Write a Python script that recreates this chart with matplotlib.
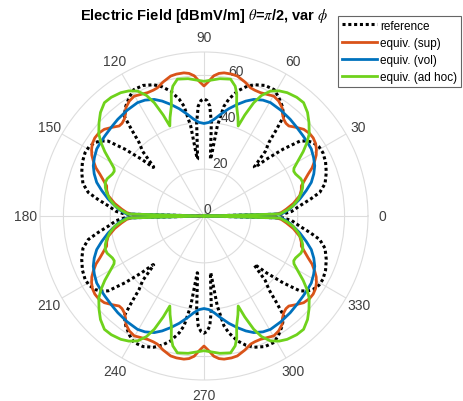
import numpy as np
import matplotlib.pyplot as plt

plt.rcParams['font.family'] = ['Liberation Sans', 'DejaVu Sans']
plt.rcParams['mathtext.fontset'] = 'stix'

# first quadrant (phi in degrees, field in dBmV/m); pattern is mirrored to the other quadrants
ref_phi = [0, 1.4, 3, 6, 9, 11.5, 15, 19.6, 24, 28, 31, 34, 36, 38, 40.2, 42.3, 43.7, 44.3,
           46.5, 48.6, 50, 51.4, 54.6, 58, 61, 65, 69, 72, 75, 78, 79.7, 81.6, 83.2, 83.6,
           85.5, 87, 88.5, 90]
ref_val = [0, 33.8, 37.5, 41, 46, 50.4, 53.5, 55.4, 56.8, 57.5, 57.3, 56.1, 54.5, 51.9, 44.2,
           36, 30, 30, 38, 42, 48, 54.6, 57.6, 60, 61.7, 61.5, 60, 58, 55.2, 51, 47.6, 38.8,
           24.4, 24.5, 40, 47, 49.3, 50]

sup_phi = [0, 0.8, 2.5, 4.8, 8, 12, 15, 17.2, 19.5, 21.9, 24, 26.5, 28.5, 30.7, 33, 35.6, 38,
           41, 44, 46.7, 48.5, 50.5, 52.5, 54.2, 57, 59.8, 62.5, 65.4, 68, 70, 73, 76.6, 79,
           82, 84, 86, 88, 90]
sup_val = [0, 29.5, 33, 35.3, 38.5, 41.8, 43, 43.5, 45.5, 47.9, 50.5, 52.8, 54.5, 55.8, 56.8,
           57.3, 57.2, 56.4, 54.5, 52.8, 52.8, 53.5, 55, 57, 58.5, 59.2, 58.5, 57.9, 57.9, 58.2,
           59.8, 61.4, 61.7, 61.7, 61.2, 60, 57.5, 55.5]

vol_phi = [0, 1.5, 2.6, 5, 10, 14, 17.4, 21, 24.4, 28, 32, 35.5, 39, 44, 48.3, 54, 59.6, 63,
           66.9, 70, 73.4, 77, 80.7, 84, 87, 90]
vol_val = [0, 33, 34.5, 37, 41.5, 45, 48, 50.2, 51.9, 53, 54, 54.2, 54.4, 54.8, 55.3, 55.8,
           56.1, 55.5, 54.1, 52.2, 49.7, 47, 44, 41.5, 40, 39.5]

adh_phi = [0, 1.5, 4, 6.6, 10, 13.6, 16, 18.6, 21, 24.6, 26.5, 28, 30, 33, 35.5, 38, 41.7, 45,
           48.7, 52, 56, 59, 62, 64.5, 66.3, 68, 69.2, 71, 73.5, 75, 76.5, 79, 83.4, 86.5, 90]
adh_val = [0, 32.4, 35.5, 38.3, 40.8, 42.8, 43.8, 44.5, 44.3, 43, 42.8, 43.5, 46, 50.5, 54, 57,
           60, 62.5, 64.4, 64.3, 63.5, 62.3, 60.4, 57, 52.8, 46.5, 41.1, 44.5, 49, 54, 57,
           59.5, 59, 58.2, 57.5]

labels = ['reference', 'equiv. (sup)', 'equiv. (vol)', 'equiv. (ad hoc)']
theta_ticks = list(range(0, 360, 30))


def full_circle(phi_q, val_q):
    p = np.array(phi_q, dtype=float)
    v = np.array(val_q, dtype=float)
    phi = np.concatenate([p, 180 - p[::-1], 180 + p, 360 - p[::-1]])
    val = np.concatenate([v, v[::-1], v, v[::-1]])
    return np.deg2rad(phi), val


fig = plt.figure(figsize=(4.63, 4.02), dpi=100)
ax = fig.add_axes([0.0864, 0.0522, 0.7084, 0.816], projection='polar')

t, r = full_circle(ref_phi, ref_val)
ax.plot(t, r, color='black', linestyle=(0, (1, 0.9)), linewidth=2.2, label=labels[0])
t, r = full_circle(sup_phi, sup_val)
ax.plot(t, r, color='#D95319', linewidth=2, label=labels[1])
t, r = full_circle(vol_phi, vol_val)
ax.plot(t, r, color='#0072BD', linewidth=2, label=labels[2])
t, r = full_circle(adh_phi, adh_val)
ax.plot(t, r, color='#6FD21C', linewidth=2, label=labels[3])

ax.set_rlim(0, 70)
ax.set_rticks([0, 20, 40, 60])
ax.set_rlabel_position(80)
ax.set_thetagrids(theta_ticks, labels=[str(a) for a in theta_ticks])
ax.grid(color='#DDDDDD', linewidth=0.8)
ax.spines['polar'].set_color('#DDDDDD')
ax.tick_params(axis='x', labelsize=10, labelcolor='#404040', pad=0)
ax.tick_params(axis='y', labelsize=10, labelcolor='#404040')

fig.text(204 / 463, 1 - 16 / 402,
         r'Electric Field [dBmV/m] $\theta$=$\pi$/2, var $\phi$',
         ha='center', va='center', fontsize=10.5, fontweight='bold')

leg = ax.legend(loc='upper left', bbox_to_anchor=(338 / 463, 1 - 17 / 402),
                bbox_transform=fig.transFigure, fontsize=8.5, fancybox=False,
                framealpha=1, edgecolor='#666666', handlelength=3.0,
                borderaxespad=0, labelspacing=0.45, handletextpad=0.25, borderpad=0.3)
leg.get_frame().set_linewidth(0.8)

fig.savefig('out.png', dpi=100)
